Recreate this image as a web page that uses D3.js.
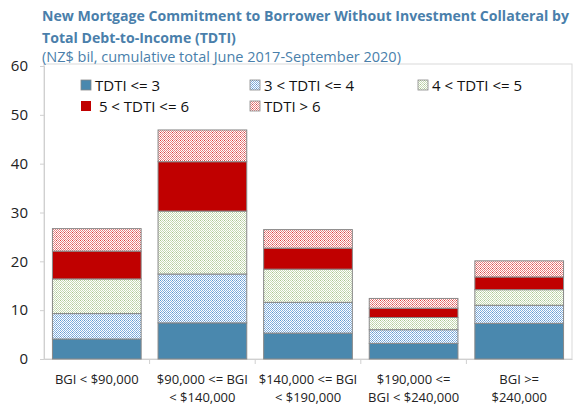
<!DOCTYPE html>
<html><head><meta charset="utf-8">
<script src="https://cdn.jsdelivr.net/npm/d3@7"></script>
<style>body{margin:0;background:#fff}svg{display:block;font-family:"Open Sans",sans-serif}</style>
</head><body><svg id="c" width="576" height="407"></svg>
<script>
const categories = ["BGI < $90,000", "$90,000 <= BGI\n< $140,000", "$140,000 <= BGI\n< $190,000", "$190,000 <=\nBGI < $240,000", "BGI >=\n$240,000"];
const seriesNames = ["TDTI <= 3", "3 < TDTI <= 4", "4 < TDTI <= 5", " 5 < TDTI <= 6", "TDTI > 6"];
const tdti3 = [4.1, 7.4, 5.3, 3.2, 7.3];
const tdti34 = [5.2, 10.0, 6.3, 2.8, 3.7];
const tdti45 = [7.1, 12.9, 6.8, 2.5, 3.2];
const tdti56 = [5.7, 10.1, 4.3, 1.9, 2.6];
const tdti6 = [4.6, 6.5, 3.8, 2.0, 3.3];
const yTicks = [0, 10, 20, 30, 40, 50, 60];
const titleLines = ["New Mortgage Commitment to Borrower Without Investment Collateral by", "Total Debt-to-Income (TDTI)"];
const subtitle = "(NZ$ bil, cumulative total June 2017-September 2020)";

const series = [tdti3, tdti34, tdti45, tdti56, tdti6];
const keys = ["s0","s1","s2","s3","s4"];
const rows = categories.map((c, i) => { const r = {cat: c}; keys.forEach((k, j) => r[k] = series[j][i]); return r; });
const stacked = d3.stack().keys(keys)(rows);

const svg = d3.select("#c");
const L = 44, R = 572, T = 66, B = 359;
const x = d3.scaleBand().domain(categories).range([L, R]).paddingInner(0.16).paddingOuter(0.08);
const y = d3.scaleLinear().domain([0, 60]).range([B, T]);

// patterns
const defs = svg.append("defs");
function pat(id, bg, fg, dot) {
  const p = defs.append("pattern").attr("id", id).attr("width", 4).attr("height", 4).attr("patternUnits", "userSpaceOnUse");
  p.append("rect").attr("width", 4).attr("height", 4).attr("fill", bg);
  for (let i = 0; i < 4; i++) for (let j = 0; j < 4; j++) {
    if ((i + j) % 2 === 0) p.append("rect").attr("x", i).attr("y", j).attr("width", 1).attr("height", 1).attr("fill", (i === 0 && j === 0) ? dot : fg);
  }
}
pat("p1", "#fff", "#84b0de", "#5f95cc");
pat("p2", "#fff", "#c6d9b2", "#a9c48f");
pat("p4", "#fff", "#e88080", "#d94040");
const fills = ["#4a88ae", "url(#p1)", "url(#p2)", "#c00000", "url(#p4)"];

// frame
svg.append("rect").attr("x", L).attr("y", T - 2).attr("width", R - L).attr("height", B - T + 2)
  .attr("fill", "none").attr("stroke", "#d9d9d9").attr("stroke-width", 1);

// title
const tt = svg.append("text").attr("fill", "#4a7fab").attr("font-weight", "bold").attr("font-size", 14.1);
titleLines.forEach((t, i) => tt.append("tspan").attr("x", 42).attr("y", 21 + i * 22).text(t));
svg.append("text").attr("x", 42).attr("y", 62).attr("fill", "#4a7fab").attr("font-size", 14.5).text(subtitle);

// y axis
const ya = svg.append("g").attr("transform", `translate(${L},0)`)
  .call(d3.axisLeft(y).tickValues(yTicks).tickSize(4).tickPadding(12));
ya.select(".domain").attr("stroke", "#d0d0d0");
ya.selectAll(".tick line").attr("stroke", "#d0d0d0");
ya.selectAll(".tick text").attr("font-size", 15).attr("fill", "#222").attr("font-family", "Open Sans, sans-serif");

// x axis
const xa = svg.append("g").attr("transform", `translate(0,${B})`)
  .call(d3.axisBottom(x).tickSize(0).tickFormat(""));
xa.select(".domain").attr("stroke", "#d0d0d0");
const step = x.step();
categories.slice(1).forEach(c => {
  const bx = x(c) - x.paddingInner() * step / 2;
  svg.append("line").attr("x1", bx).attr("x2", bx).attr("y1", B).attr("y2", B + 5).attr("stroke", "#d0d0d0");
});
categories.forEach(c => {
  const t = svg.append("text").attr("text-anchor", "middle").attr("font-size", 13).attr("fill", "#222");
  c.split("\n").forEach((line, i) => t.append("tspan").attr("x", x(c) + x.bandwidth() / 2).attr("y", 384 + i * 18).text(line));
});

// bars
stacked.forEach((s, si) => {
  svg.append("g").selectAll("rect").data(s).join("rect")
    .attr("x", d => x(d.data.cat)).attr("width", x.bandwidth())
    .attr("y", d => y(d[1])).attr("height", d => y(d[0]) - y(d[1]))
    .attr("fill", fills[si]).attr("stroke", "#888").attr("stroke-width", 1);
});

// legend
const lx = [81, 250, 418], ly = [85, 106];
seriesNames.forEach((n, i) => {
  const cx = lx[i % 3], cy = ly[Math.floor(i / 3)];
  svg.append("rect").attr("x", cx).attr("y", cy - 5).attr("width", 10).attr("height", 10)
    .attr("fill", fills[i]).attr("stroke", i === 3 ? "none" : "#888").attr("stroke-width", 0.8);
  svg.append("text").attr("x", cx + 14).attr("y", cy + 5.5).attr("font-size", 15).attr("fill", "#111").style("white-space", "pre").text(n);
});
</script></body></html>
